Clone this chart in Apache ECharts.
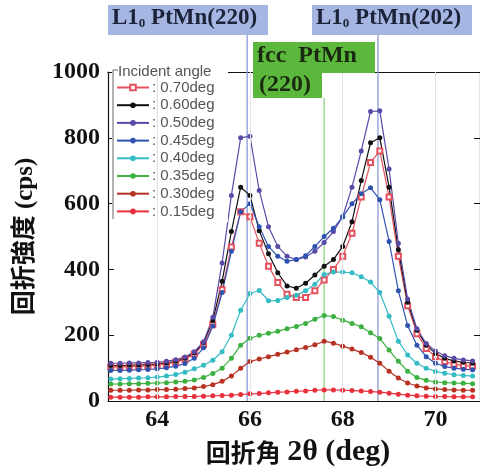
<!DOCTYPE html>
<html><head><meta charset="utf-8">
<script src="https://cdn.jsdelivr.net/npm/echarts@6/dist/echarts.min.js"></script>
<style>html,body{margin:0;padding:0;background:#fff}#c{width:480px;height:472px}</style>
</head><body><div id="c"></div>
<script>
// 2θ positions (deg)
const twoTheta = [63.0,63.2,63.4,63.6,63.8,64.0,64.2,64.4,64.6,64.8,65.0,65.2,65.4,65.6,65.8,66.0,66.2,66.4,66.6,66.8,67.0,67.2,67.4,67.6,67.8,68.0,68.2,68.4,68.6,68.8,69.0,69.2,69.4,69.6,69.8,70.0,70.2,70.4,70.6,70.8];
const seriesNames = ['0.70deg','0.60deg','0.50deg','0.45deg','0.40deg','0.35deg','0.30deg','0.15deg'];
const cps070 = [104,104,105,106,107,109,112,118,127,143,172,232,338,468,575,560,480,410,360,325,315,315,335,368,400,440,510,620,725,760,620,440,290,205,160,135,120,112,108,106];
const cps060 = [108,108,109,110,111,113,116,121,130,147,178,245,364,515,650,625,518,448,390,350,343,358,383,410,430,470,545,670,785,800,650,460,300,215,170,145,130,122,118,115];
const cps050 = [115,115,116,116,117,118,121,126,134,150,180,255,420,625,800,805,640,530,470,440,430,438,455,482,515,560,650,760,880,882,705,480,310,220,175,152,138,130,125,122];
const cps045 = [93,93,94,95,96,98,101,106,114,130,162,228,330,455,575,600,530,470,440,425,430,442,470,500,525,560,600,630,648,612,485,335,230,170,135,115,105,100,97,95];
const cps040 = [67,68,69,70,71,73,76,81,88,98,109,124,150,200,276,327,336,305,306,315,322,335,355,385,392,392,390,378,362,330,258,182,140,115,100,90,85,80,78,76];
const cps035 = [52,52,53,53,54,55,56,58,60,64,72,84,100,130,170,191,200,206,212,220,227,236,249,260,257,246,236,226,208,190,155,121,91,72,63,58,56,55,54,53];
const cps030 = [33,33,33,34,34,35,35,36,38,40,44,50,60,76,100,120,128,135,142,149,156,163,171,182,176,167,158,148,133,115,91,70,55,46,40,37,35,34,33,33];
const cps015 = [12,12,12,12,13,13,13,14,14,14,15,16,17,18,20,22,23,25,27,28,30,31,33,34,34,33,32,31,29,27,24,21,18,16,15,14,14,13,13,13];
const xTicks = [64,66,68,70];
const peakL10_220 = 65.94, peakL10_202 = 68.76, peakFcc220 = 67.6;

const colors = ['#e4505e','#111111','#5a4aa8','#2f52b0','#34bcc4','#3cb040','#b83224','#e8303c'];
const allData = [cps070,cps060,cps050,cps045,cps040,cps035,cps030,cps015];

const chart = echarts.init(document.getElementById('c'));
const serif = '"Liberation Serif","Times New Roman","Noto Sans CJK JP",serif';
const sans = '"Liberation Sans",Arial,sans-serif';
const cjk = '"Noto Sans CJK JP","Noto Sans CJK SC",sans-serif';
const series = seriesNames.map((n,i)=>({
  name:n, type:'line', data: twoTheta.map((x,j)=>[x, allData[i][j]]),
  symbol: i===0 ? 'emptyRect' : 'circle',
  symbolSize: 5,
  lineStyle:{width:1.2,color:colors[i]},
  itemStyle:{color: colors[i]},
  color: colors[i],
  z: 2,
  animation:false
}));
series.push({
  name:'grid', type:'line', data:[], z:1, silent:true, animation:false,
  markLine:{silent:true, symbol:['none','none'], label:{show:false}, animation:false,
    lineStyle:{color:'#e2e2e2',type:'solid',width:1},
    data: xTicks.map(v=>({xAxis:v}))}
});

const option = {
  backgroundColor:'#fff',
  animation:false,
  grid:{left:108,right:0,top:72,bottom:69},
  legend:{
    data: seriesNames, orient:'vertical', left:114, top:80, z:6,
    itemWidth:32, itemHeight:7, itemGap:2.7, itemSymbolSize:7,
    padding:[0,4,0,2],
    formatter: n=>': '+n,
    textStyle:{fontFamily:sans,fontSize:15,color:'#555',padding:[0,0,0,-2]}
  },
  xAxis:[{
    type:'value', min:62.94, max:70.96, position:'bottom',
    axisLine:{show:true,onZero:false,lineStyle:{color:'#111',width:1.2}},
    axisTick:{show:true,inside:true,length:6,customValues:xTicks,lineStyle:{color:'#111'}},
    axisLabel:{customValues:xTicks,margin:7,fontFamily:serif,fontWeight:'bold',fontSize:24,color:'#111'},
    splitLine:{show:false},
    name:'{c|回折角} {l|2θ (deg)}', nameLocation:'middle', nameGap:34,
    nameTextStyle:{fontFamily:serif,fontWeight:'bold',fontSize:26,color:'#111',padding:[0,0,0,8],
      rich:{c:{fontFamily:cjk,fontWeight:'bold',fontSize:25,color:'#111'},
            l:{fontFamily:serif,fontWeight:'bold',fontSize:30,color:'#111'}}}
  },{
    type:'value', min:62.94, max:70.96, position:'top',
    axisLine:{show:true,onZero:false,lineStyle:{color:'#111',width:1.2}},
    axisTick:{show:true,inside:true,length:6,customValues:xTicks,lineStyle:{color:'#111'}},
    axisLabel:{show:false}, splitLine:{show:false}
  }],
  yAxis:[{
    type:'value', min:0, max:1000, interval:200, position:'left',
    axisLine:{show:true,onZero:false,lineStyle:{color:'#111',width:1.2}},
    axisTick:{show:true,inside:true,length:6,lineStyle:{color:'#111'}},
    axisLabel:{margin:8,formatter:v=>String(v),fontFamily:serif,fontWeight:'bold',fontSize:24,color:'#111'},
    splitLine:{show:false},
    name:'回折強度 (cps)', nameLocation:'middle', nameGap:70, nameRotate:90,
    nameTextStyle:{fontFamily:serif,fontWeight:'bold',fontSize:25,color:'#111'}
  },{
    type:'value', min:0, max:1000, interval:200, position:'right',
    axisLine:{show:true,onZero:false,lineStyle:{color:'#111',width:1.2}},
    axisTick:{show:true,inside:true,length:6,lineStyle:{color:'#111'}},
    axisLabel:{show:false}, splitLine:{show:false}
  }],
  series: series
};
chart.setOption(option);

const yBottom = chart.convertToPixel({yAxisIndex:0}, 0);
const xa = chart.convertToPixel({xAxisIndex:0}, peakL10_220);
const xb = chart.convertToPixel({xAxisIndex:0}, peakL10_202);
const xc = chart.convertToPixel({xAxisIndex:0}, peakFcc220);
const boxFont = {fontFamily:serif,fontWeight:'bold',fontSize:23,fill:'#1c2238'};
const richL = {sub:{fontFamily:serif,fontWeight:'bold',fontSize:13,verticalAlign:'bottom',padding:[10,0,0,0],fill:'#1c2238'}};
chart.setOption({graphic:[
  {type:'line',z:1,shape:{x1:xa,y1:35,x2:xa,y2:yBottom},style:{stroke:'#8c9ad6',lineWidth:1.3}},
  {type:'line',z:1,shape:{x1:xb,y1:35,x2:xb,y2:yBottom},style:{stroke:'#8c9ad6',lineWidth:1.3}},
  {type:'line',z:1,shape:{x1:xc,y1:98,x2:xc,y2:yBottom},style:{stroke:'#8fd48a',lineWidth:1.3}},
  {type:'rect',z:50,shape:{x:108,y:5,width:160,height:30},style:{fill:'#a6b6e2'}},
  {type:'rect',z:50,shape:{x:312,y:5,width:160,height:30},style:{fill:'#a6b6e2'}},
  {type:'text',z:51,left:112,top:7,style:{text:'L1{sub|0} PtMn(220)',rich:richL,...boxFont}},
  {type:'text',z:51,left:316,top:7,style:{text:'L1{sub|0} PtMn(202)',rich:richL,...boxFont}},
  {type:'rect',z:50,shape:{x:253,y:42,width:122,height:31},style:{fill:'#5cb83c'}},
  {type:'rect',z:50,shape:{x:253,y:72,width:69,height:26},style:{fill:'#5cb83c'}},
  {type:'text',z:51,left:257,top:44,style:{text:'fcc  PtMn',...boxFont,fontSize:24,fill:'#1a2a10'}},
  {type:'text',z:51,left:259,top:73,style:{text:'(220)',...boxFont,fontSize:24,fill:'#1a2a10'}},
  {type:'rect',z:3,shape:{x:112,y:66,width:116,height:156},style:{fill:'#fff'}},
  {type:'line',z:3,shape:{x1:113,y1:70,x2:113,y2:219},style:{stroke:'#666',lineWidth:1}},
  {type:'line',z:3,shape:{x1:113,y1:70,x2:118,y2:70},style:{stroke:'#666',lineWidth:1}},
  {type:'text',z:3,left:118,top:64,style:{text:'Incident angle',fontFamily:sans,fontSize:15,fill:'#555'}}
]});
</script>
</body></html>
